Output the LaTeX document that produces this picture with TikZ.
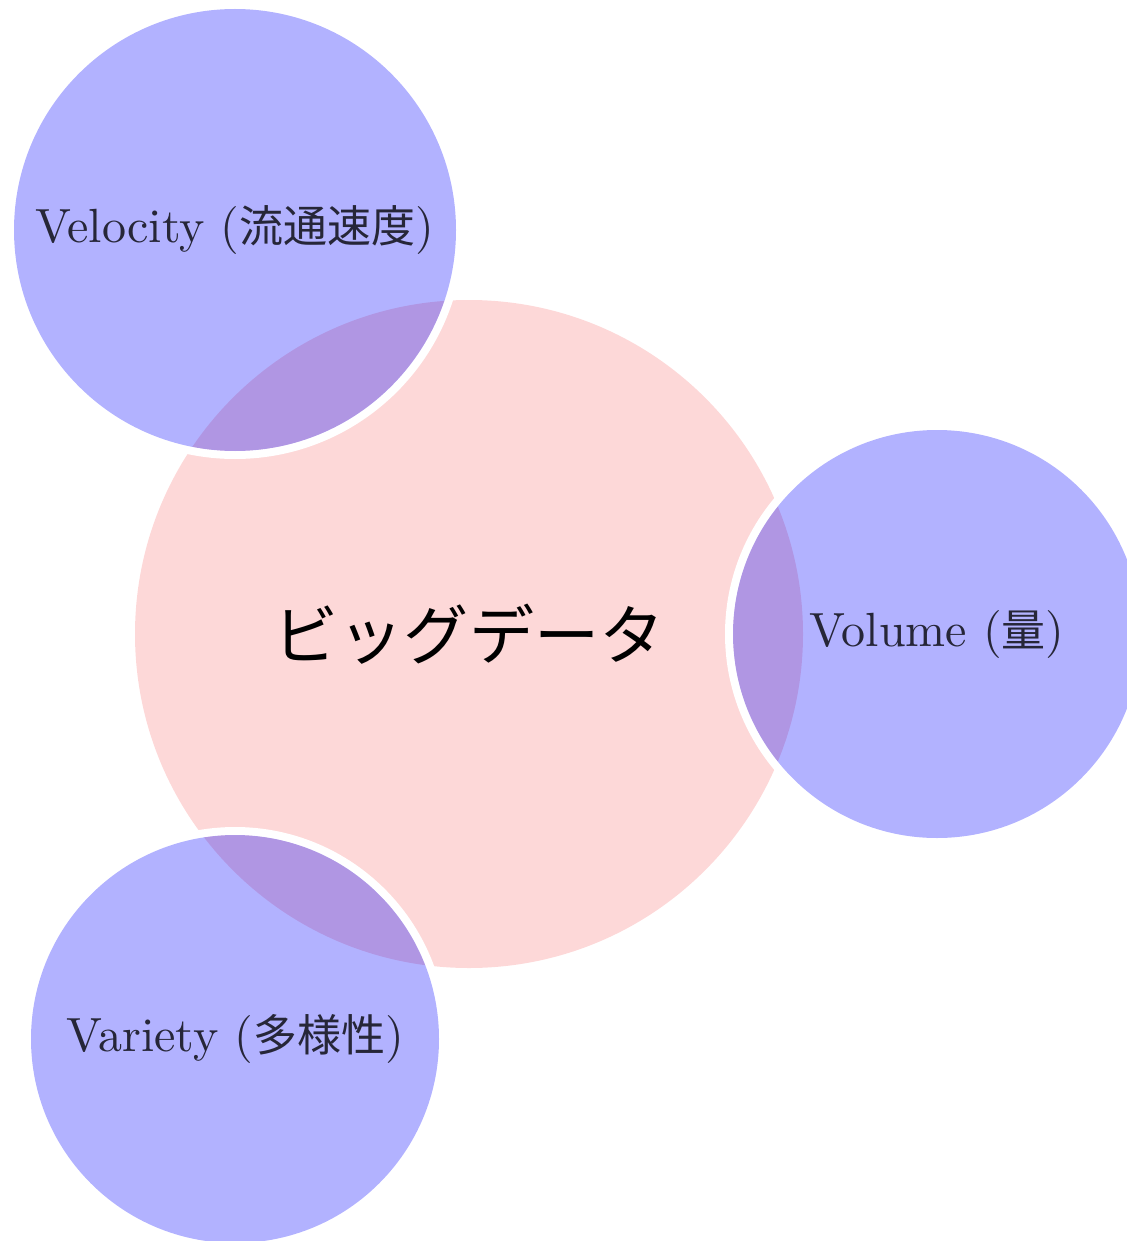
\documentclass[tikz,border=0pt]{standalone}
\usepackage{fontspec}
\setmainfont{lmroman10-regular.otf}
\newfontfamily\cjk{Noto Sans CJK JP}[Scale=0.88]
\newcommand{\lcjk}[1]{{\cjk\fontsize{25}{28}\selectfont #1}}
\definecolor{rootfill}{RGB}{253,216,216}
\definecolor{labeltext}{RGB}{38,38,56}
\tikzset{
  rootconcept/.style={circle, fill=rootfill, inner sep=0pt, text=black, font=\fontsize{37}{40}\selectfont\cjk},
  subconcept/.style={circle, fill=blue, fill opacity=0.3, text opacity=1, inner sep=0pt, text=labeltext, font=\fontsize{24}{28}\selectfont},
  gap/.style={draw=white, line width=4pt}
}
\begin{document}
\begin{tikzpicture}[x=0.5pt, y=-0.5pt]
\useasboundingbox (0,0) rectangle (1126,1241);
\node[rootconcept, minimum size=334pt] (root) at (469,634) {ビッグデータ};
\coordinate (velc) at (235,230);
\coordinate (volc) at (937,634);
\coordinate (varc) at (235,1039);
\draw[gap] (velc) circle[radius=112.5pt];
\draw[gap] (volc) circle[radius=104pt];
\draw[gap] (varc) circle[radius=104pt];
\node[subconcept, minimum size=221pt] (vel) at (velc) {Velocity (\lcjk{流通速度})};
\node[subconcept, minimum size=204pt] (vol) at (volc) {Volume (\lcjk{量})};
\node[subconcept, minimum size=204pt] (var) at (varc) {Variety (\lcjk{多様性})};
\end{tikzpicture}
\end{document}
